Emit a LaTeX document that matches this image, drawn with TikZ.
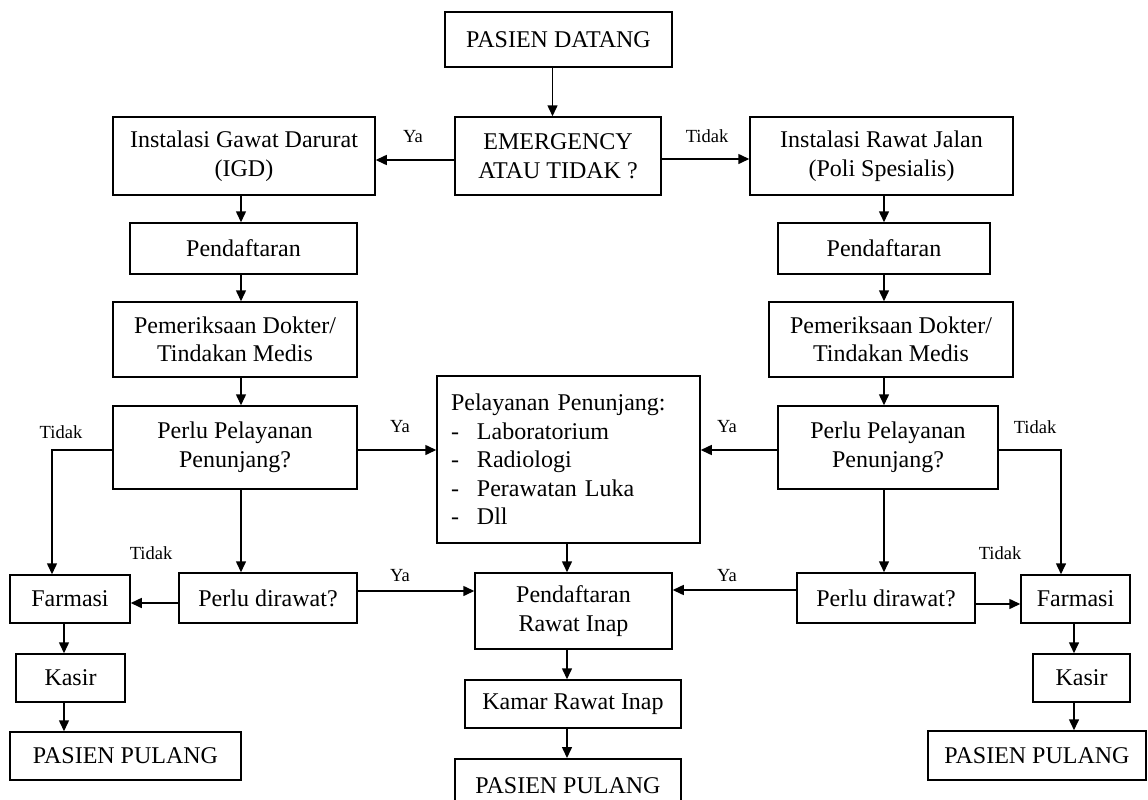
\documentclass[tikz,border=0pt]{standalone}
\usepackage{fontspec}
\setmainfont{Liberation Serif}
\usetikzlibrary{arrows.meta,calc}
\tikzset{
  box/.style={draw=black, line width=1.5pt, rectangle, inner sep=0pt, align=center,
    font=\fontsize{24}{28.5}\selectfont},
  arr/.style={line width=1.5pt, -{Triangle[length=11pt,width=10pt]}},
  lbl/.style={font=\fontsize{18.5}{20}\selectfont, inner sep=0pt},
}
\begin{document}
\begin{tikzpicture}[x=1pt,y=-1pt]
\useasboundingbox (0,0) rectangle (1148,800);
\clip (0,0) rectangle (1148,800);
\fill[white] (0,0) rectangle (1148,800);
% top
\node[box, minimum width=227, minimum height=55] (datang) at (558.5,39.5) {PASIEN DATANG};
\node[box, minimum width=206, minimum height=78] (emerg) at (558,156) {EMERGENCY\\ATAU TIDAK ?};
\node[box, minimum width=262, minimum height=78] (igd) at (244,156) {Instalasi Gawat Darurat\\(IGD)};
\node[box, minimum width=263, minimum height=78] (irj) at (881.5,156) {Instalasi Rawat Jalan\\(Poli Spesialis)};
% left column
\node[box, minimum width=227, minimum height=51] (dafL) at (243.5,248.5) {Pendaftaran};
\node[box, minimum width=244, minimum height=75] (periksaL) at (235,339.5) {Pemeriksaan Dokter/\\Tindakan Medis};
\node[box, minimum width=244, minimum height=83] (perluL) at (235,447.5) {Perlu Pelayanan\\Penunjang?};
\node[box, minimum width=178, minimum height=50] (rawatL) at (268,598) {Perlu dirawat?};
\node[box, minimum width=120, minimum height=48] (farmL) at (70,599) {Farmasi};
\node[box, minimum width=109, minimum height=48] (kasirL) at (70.5,678) {Kasir};
\node[box, minimum width=231, minimum height=48] (pulangL) at (125.5,756) {PASIEN PULANG};
% right column
\node[box, minimum width=212, minimum height=51] (dafR) at (884,248.5) {Pendaftaran};
\node[box, minimum width=244, minimum height=75] (periksaR) at (891,339.5) {Pemeriksaan Dokter/\\Tindakan Medis};
\node[box, minimum width=220, minimum height=83] (perluR) at (888,447.5) {Perlu Pelayanan\\Penunjang?};
\node[box, minimum width=178, minimum height=50] (rawatR) at (886,598) {Perlu dirawat?};
\node[box, minimum width=109, minimum height=48] (farmR) at (1075.5,599) {Farmasi};
\node[box, minimum width=97, minimum height=48] (kasirR) at (1081.5,678) {Kasir};
\node[box, minimum width=218, minimum height=49] (pulangR) at (1037,755.5) {PASIEN PULANG};
% middle column
\node[box, align=left, text width=235, inner xsep=14pt, minimum height=167] (penunjang) at (568.5,459.5)
  {Pelayanan Penunjang:\\
   \makebox[26pt][l]{-}Laboratorium\\
   \makebox[26pt][l]{-}Radiologi\\
   \makebox[26pt][l]{-}Perawatan Luka\\
   \makebox[26pt][l]{-}Dll};
\node[box, minimum width=197, minimum height=76] (inap) at (573.5,611) {Pendaftaran\\Rawat Inap};
\node[box, minimum width=216, minimum height=48] (kamar) at (573,704) {Kamar Rawat Inap};
\node[box, minimum width=226, minimum height=54, anchor=north] (pulangM) at (568,758) {PASIEN PULANG};
% connectors top
\draw[arr] ([xshift=-6pt]datang.south) -- ([xshift=-6pt]datang.south |- emerg.north);
\draw[arr] ([yshift=-4pt]emerg.west) -- ([yshift=-4pt]emerg.west -| igd.east);
\draw[arr] ([yshift=-3pt]emerg.east) -- ([yshift=-3pt]emerg.east -| irj.west);
\node[lbl] (lya1) at (413,137) {Ya};
\node[lbl] (ltd1) at (707,136) {Tidak};
% left chain
\coordinate (xL) at (241,0);
\draw[arr] (igd.south -| xL) -- (dafL.north -| xL);
\draw[arr] (dafL.south -| xL) -- (periksaL.north -| xL);
\draw[arr] (periksaL.south -| xL) -- (perluL.north -| xL);
\draw[arr] (perluL.south -| xL) -- (rawatL.north -| xL);
% right chain
\coordinate (xR) at (884,0);
\draw[arr] (irj.south -| xR) -- (dafR.north -| xR);
\draw[arr] (dafR.south -| xR) -- (periksaR.north -| xR);
\draw[arr] (periksaR.south -| xR) -- (perluR.north -| xR);
\draw[arr] (perluR.south -| xR) -- (rawatR.north -| xR);
% penunjang
\coordinate (yP) at (0,450);
\draw[arr] (perluL.east |- yP) -- (penunjang.west |- yP);
\draw[arr] (perluR.west |- yP) -- (penunjang.east |- yP);
\node[lbl] (lya2) at (400,427) {Ya};
\node[lbl] (lya3) at (727,427) {Ya};
% tidak branches
\coordinate (tL) at (52,450);
\coordinate (tR) at (1061,450);
\draw[arr] (perluL.west |- yP) -- (tL) -- (tL |- farmL.north);
\draw[arr] (perluR.east |- yP) -- (tR) -- (tR |- farmR.north);
\node[lbl] (ltd2) at (61,432) {Tidak};
\node[lbl] (ltd3) at (1035,427) {Tidak};
% perlu dirawat
\draw[arr] ([yshift=-5pt]rawatL.west) -- ([yshift=-5pt]rawatL.west -| farmL.east);
\draw[arr] ([yshift=-6pt]rawatR.east) -- ([yshift=-6pt]rawatR.east -| farmR.west);
\draw[arr] ([yshift=7pt]rawatL.east) -- ([yshift=7pt]rawatL.east -| inap.west);
\draw[arr] ([yshift=8pt]rawatR.west) -- ([yshift=8pt]rawatR.west -| inap.east);
\node[lbl] (ltd4) at (151,553) {Tidak};
\node[lbl] (ltd5) at (1000,553) {Tidak};
\node[lbl] (lya4) at (400,576) {Ya};
\node[lbl] (lya5) at (727,576) {Ya};
% middle chain
\coordinate (xM) at (567,0);
\draw[arr] (penunjang.south -| xM) -- (inap.north -| xM);
\draw[arr] (inap.south -| xM) -- (kamar.north -| xM);
\draw[arr] (kamar.south -| xM) -- (pulangM.north -| xM);
% bottom chains
\coordinate (xKL) at (64,0);
\coordinate (xKR) at (1074,0);
\draw[arr] (farmL.south -| xKL) -- (kasirL.north -| xKL);
\draw[arr] (kasirL.south -| xKL) -- (pulangL.north -| xKL);
\draw[arr] (farmR.south -| xKR) -- (kasirR.north -| xKR);
\draw[arr] (kasirR.south -| xKR) -- (pulangR.north -| xKR);
\end{tikzpicture}
\end{document}
